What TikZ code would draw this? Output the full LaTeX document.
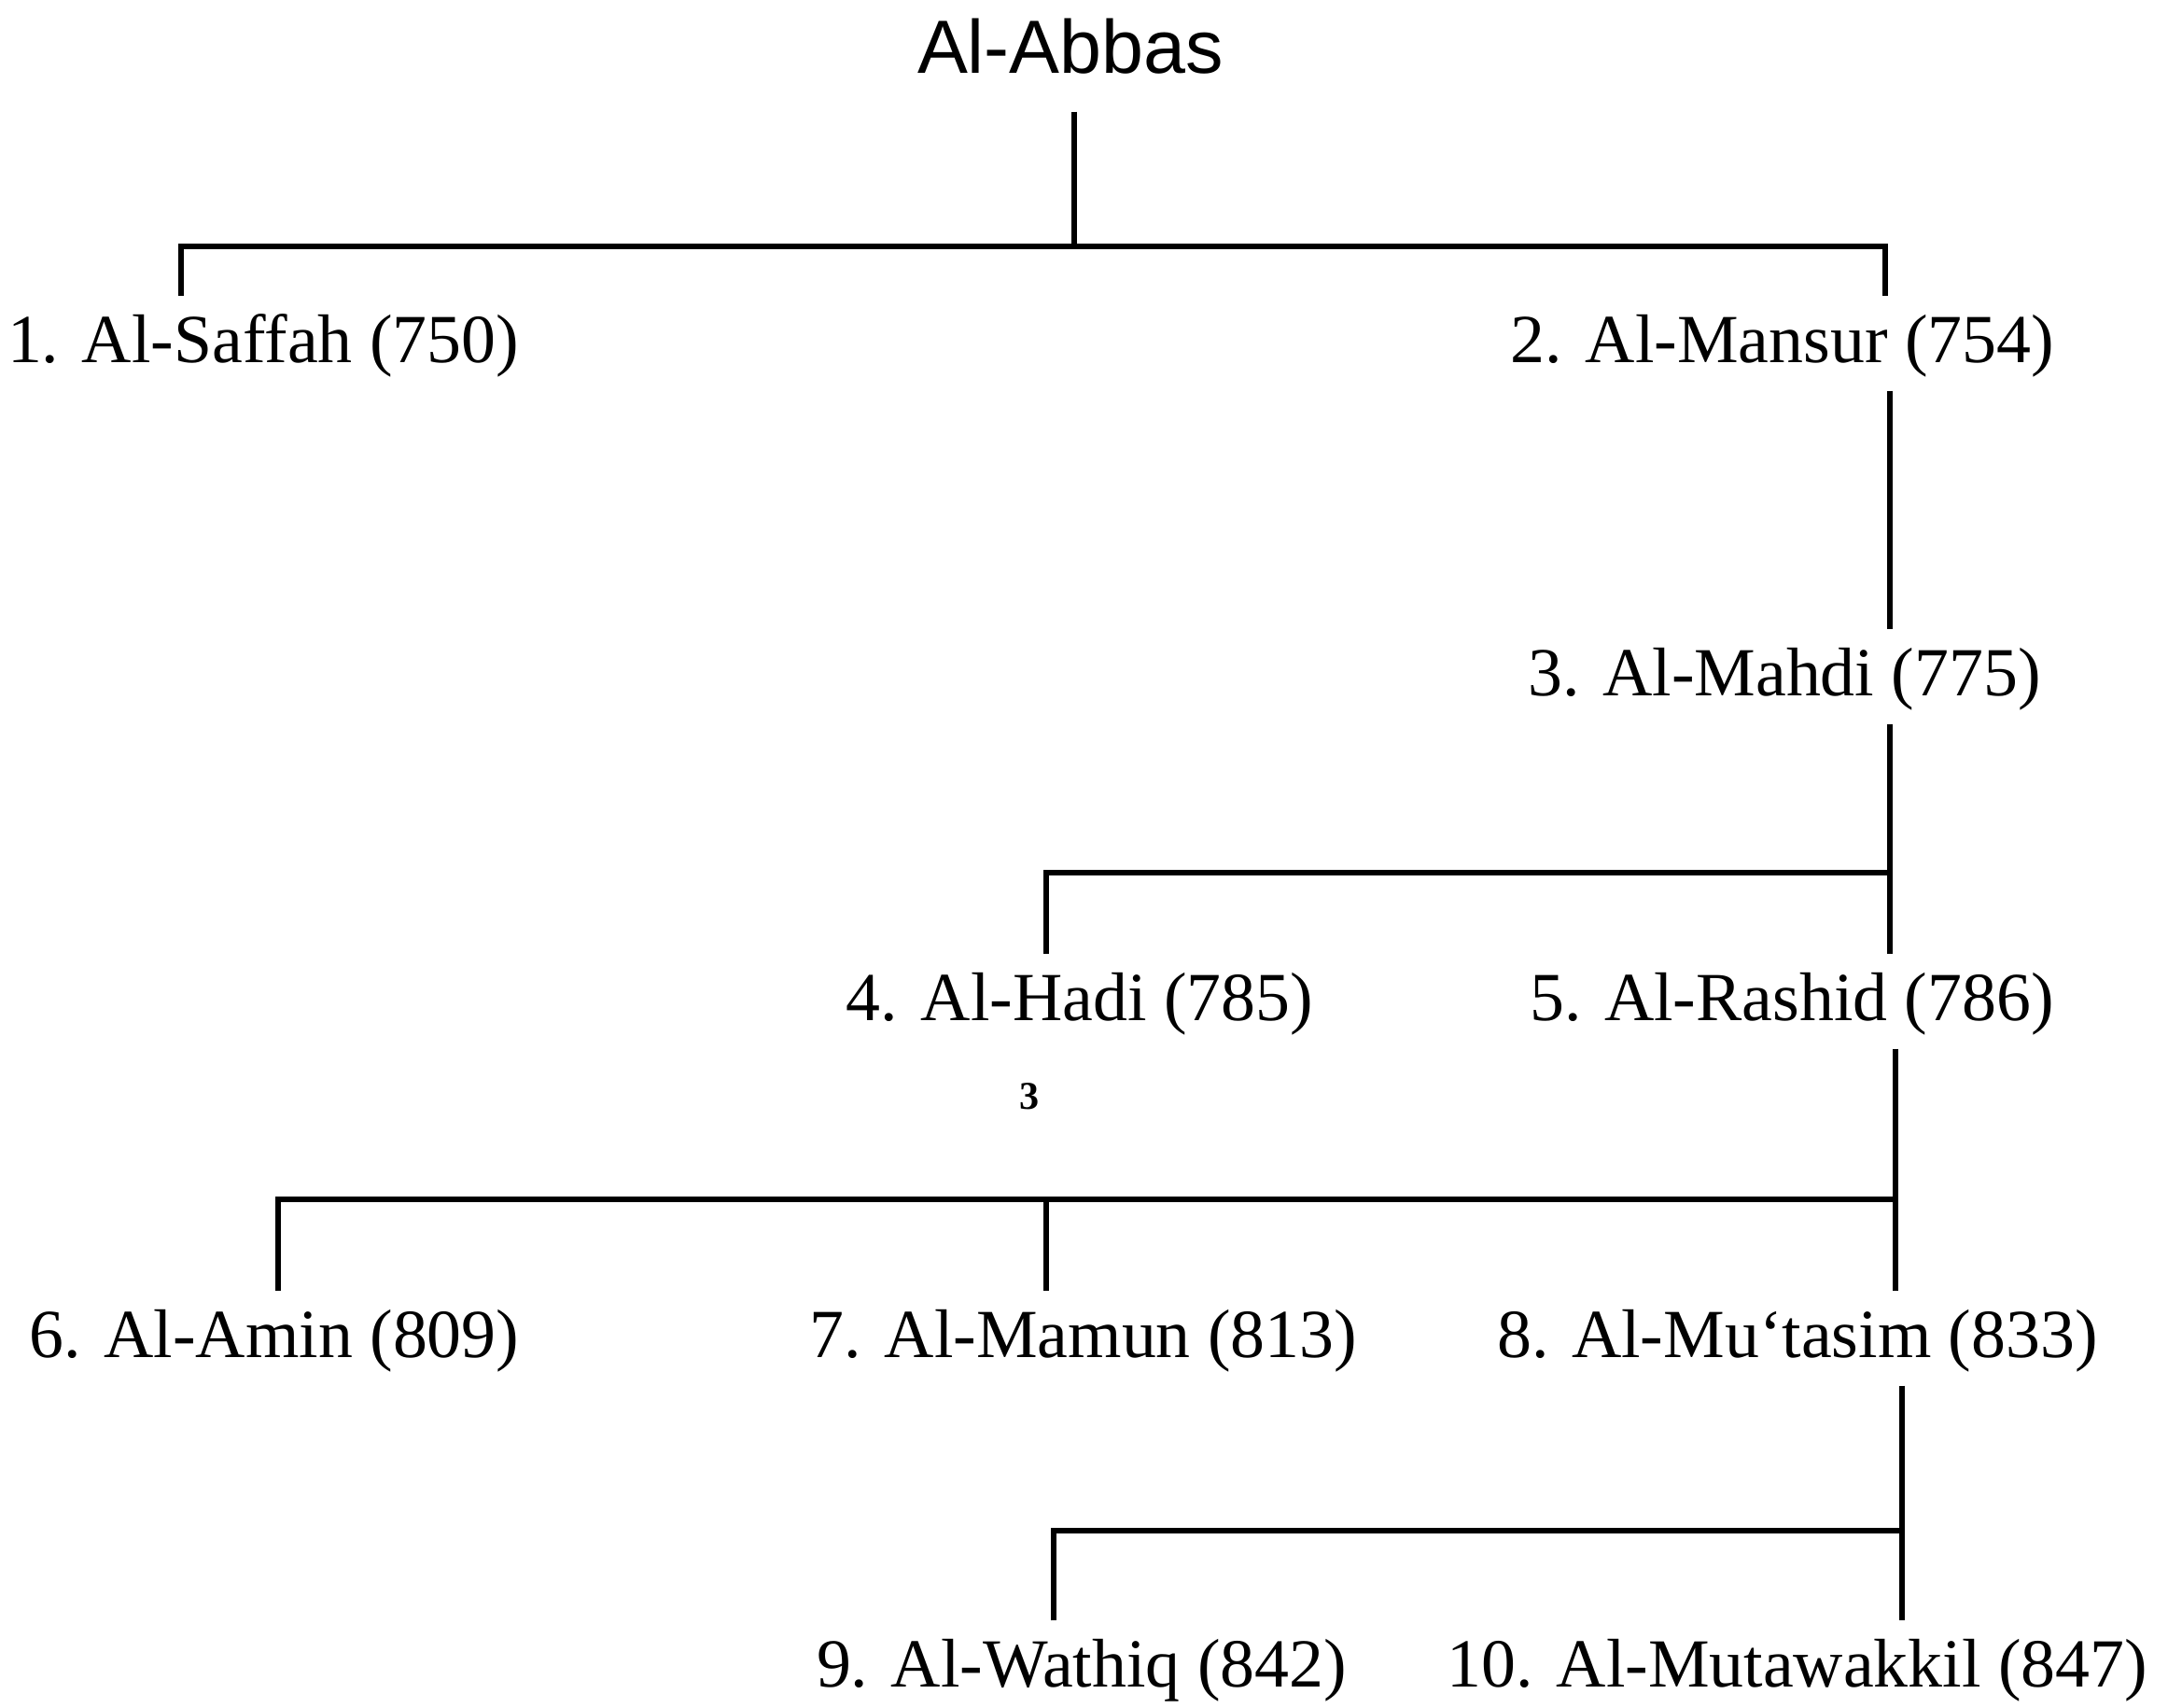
\documentclass[tikz,border=0pt]{standalone}
\usepackage{fontspec}
\setmainfont{Liberation Serif}
\newfontfamily\headfont{Liberation Sans}

\begin{document}
\begin{tikzpicture}[
  caliph/.style={anchor=base, inner xsep=0pt, inner ysep=0.2cm, text height=0.5cm, text depth=0.1cm, font=\fontsize{21}{25}\selectfont},
  link/.style={line width=1.7pt}
]
  \useasboundingbox (0,0) rectangle (23.38,-18.29);

  % --- Ancestor ---
  \node[anchor=base, inner sep=0pt, text depth=0.41cm, font=\headfont\fontsize{23}{27}\selectfont] (abbas) at (11.47,-0.78) {Al-Abbas};

  % --- Caliphs ---
  \node[caliph] (saffah) at (2.82,-3.88) {1. Al-Saffah (750)};
  \node[caliph] (mansur) at (19.10,-3.88) {2. Al-Mansur (754)};
  \node[caliph] (mahdi) at (19.12,-7.45) {3. Al-Mahdi (775)};
  \node[caliph] (hadi) at (11.57,-10.93) {4. Al-Hadi (785)};
  \node[caliph] (rashid) at (19.20,-10.93) {5. Al-Rashid (786)};
  \node[caliph] (amin) at (2.94,-14.54) {6. Al-Amin (809)};
  \node[caliph] (mamun) at (11.61,-14.54) {7. Al-Mamun (813)};
  \node[caliph] (mutasim) at (19.26,-14.54) {8. Al-Mu`tasim (833)};
  \node[caliph] (wathiq) at (11.59,-18.07) {9. Al-Wathiq (842)};
  \node[caliph] (mutawakkil) at (19.26,-18.07) {10. Al-Mutawakkil (847)};

  % --- Stray mark ---
  \node[font=\bfseries\fontsize{12}{12}\selectfont] (speck) at (11.03,-11.75) {3};

  % --- Junctions ---
  \coordinate (bar1) at (11.51,-2.64);
  \coordinate (bar1l) at (1.94,-2.64);
  \coordinate (bar1r) at (20.20,-2.64);
  \coordinate (bar2) at (20.25,-9.35);
  \coordinate (bar2l) at (11.21,-9.35);
  \coordinate (bar3) at (20.31,-12.85);
  \coordinate (bar3l) at (2.98,-12.85);
  \coordinate (bar3m) at (11.21,-12.85);
  \coordinate (bar4) at (20.38,-16.40);
  \coordinate (bar4l) at (11.29,-16.40);

  % --- Lines ---
  \draw[link] (abbas.south -| bar1) -- (bar1);
  \draw[link] (saffah.north -| bar1l) |- (bar1r) -- (mansur.north -| bar1r);
  \draw[link] (mansur.south -| bar2) -- (mahdi.north -| bar2);
  \draw[link] (mahdi.south -| bar2) -- (rashid.north -| bar2);
  \draw[link] (hadi.north -| bar2l) |- (bar2);
  \draw[link] (rashid.south -| bar3) -- (mutasim.north -| bar3);
  \draw[link] (amin.north -| bar3l) |- (bar3);
  \draw[link] (mamun.north -| bar3m) -- (bar3m);
  \draw[link] (mutasim.south -| bar4) -- (mutawakkil.north -| bar4);
  \draw[link] (wathiq.north -| bar4l) |- (bar4);

\end{tikzpicture}
\end{document}
